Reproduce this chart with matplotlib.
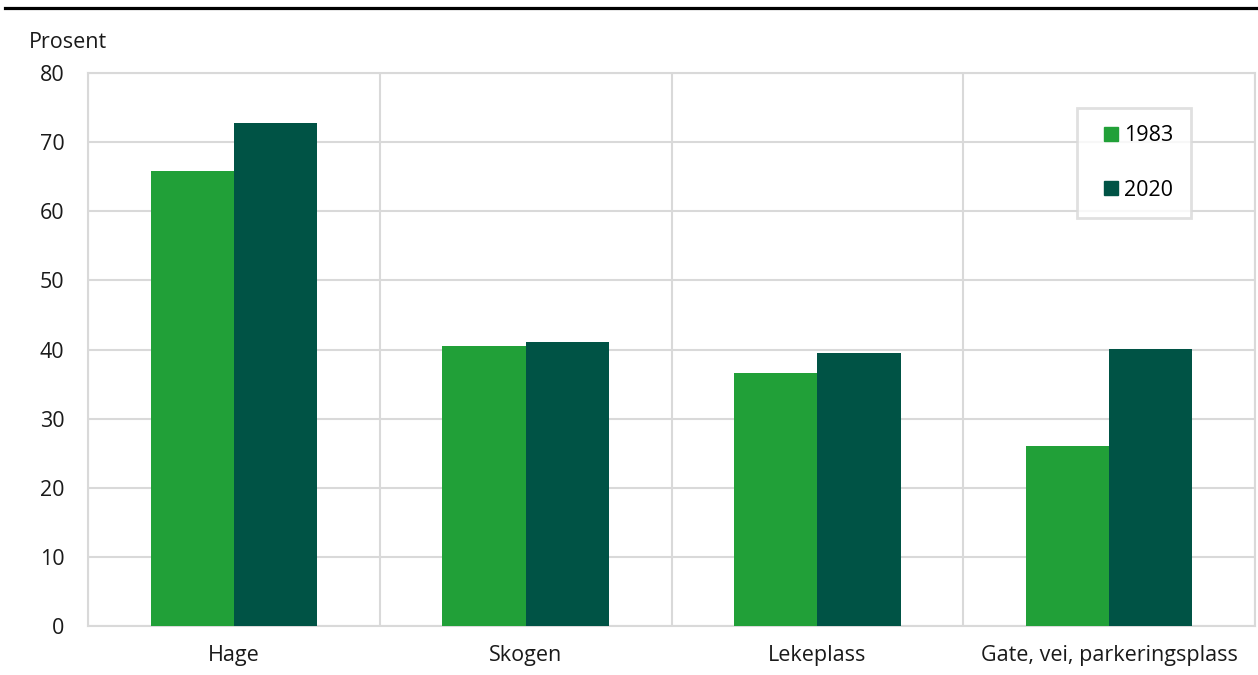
import matplotlib
matplotlib.use("Agg")
import matplotlib.pyplot as plt
from matplotlib.lines import Line2D
import numpy as np

plt.rcParams['font.family'] = ['Open Sans', 'DejaVu Sans']

categories = ["Hage", "Skogen", "Lekeplass", "Gate, vei, parkeringsplass"]
years = ["1983", "2020"]
values_1983 = [65.8, 40.5, 36.6, 26.0]
values_2020 = [72.8, 41.1, 39.5, 40.1]
y_ticks = [0, 10, 20, 30, 40, 50, 60, 70, 80]

col_light = "#21a038"
col_dark = "#005345"
grid_col = "#d9d9d9"
text_col = "#1a1a1a"
fs = 15.5

fig = plt.figure(figsize=(12.58, 6.75), dpi=100)
ax = fig.add_axes([88 / 1258, 49 / 675, 1167 / 1258, 553 / 675])

x = np.arange(len(categories))
w = 0.285
ax.bar(x - w / 2, values_1983, w, color=col_light, zorder=3, label=years[0])
ax.bar(x + w / 2, values_2020, w, color=col_dark, zorder=3, label=years[1])

ax.set_xlim(-0.5, len(categories) - 0.5)
ax.set_ylim(0, 80)
ax.set_yticks(y_ticks)
ax.set_xticks(x)
ax.set_xticklabels(categories)
ax.set_xticks(np.arange(len(categories) + 1) - 0.5, minor=True)

ax.grid(axis='y', which='major', color=grid_col, linewidth=1.5, zorder=0)
ax.grid(axis='x', which='minor', color=grid_col, linewidth=1.5, zorder=0)
ax.grid(axis='x', which='major', visible=False)

for s in ax.spines.values():
    s.set_color(grid_col)
    s.set_linewidth(1.5)
    s.set_zorder(0)

ax.tick_params(axis='both', which='both', length=0, labelsize=fs, colors=text_col)
ax.tick_params(axis='y', pad=17)
ax.tick_params(axis='x', pad=14)

handles = [
    Line2D([], [], marker='s', linestyle='none', markersize=10,
           markerfacecolor=col_light, markeredgecolor=col_light),
    Line2D([], [], marker='s', linestyle='none', markersize=10,
           markerfacecolor=col_dark, markeredgecolor=col_dark),
]
leg = ax.legend(handles, years, loc='upper left',
                bbox_to_anchor=((1077 - 88) / 1167, (626 - 108) / 553),
                borderaxespad=0, fontsize=fs, frameon=True, fancybox=False,
                handlelength=1.56, handletextpad=-0.17, labelspacing=1.56,
                borderpad=0.8)
leg.get_frame().set_edgecolor(grid_col)
leg.get_frame().set_linewidth(2)
leg.get_frame().set_facecolor('white')
leg.set_zorder(5)

fig.text(29 / 1258, 1 - 43 / 675, "Prosent", fontsize=fs, color=text_col,
         ha='left', va='center')
fig.add_artist(Line2D([5 / 1258, 1.0], [1 - 8 / 675, 1 - 8 / 675],
                      color='black', linewidth=2.3))

fig.savefig("out.png", dpi=100)
